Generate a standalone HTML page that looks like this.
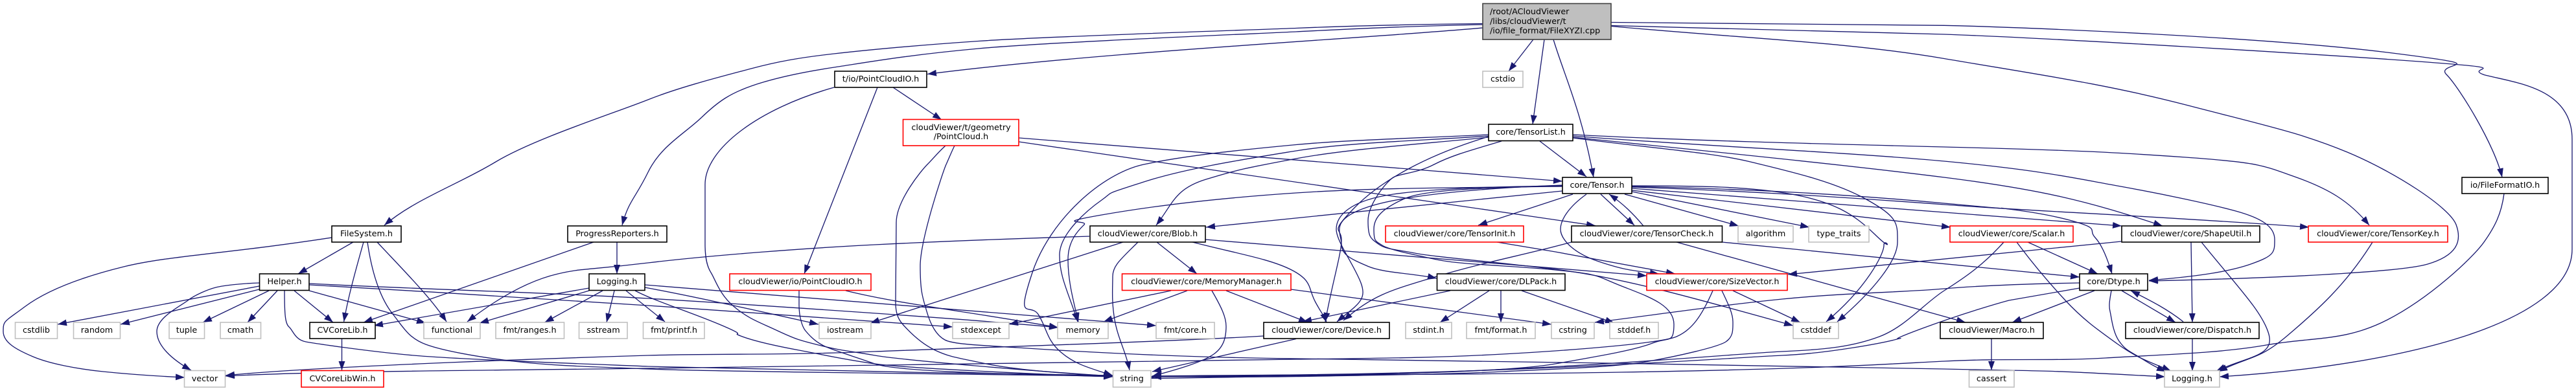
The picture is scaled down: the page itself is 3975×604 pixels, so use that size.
<!DOCTYPE html>
<html><head><meta charset="utf-8">
<style>
html,body{margin:0;padding:0;background:#fff;width:3975px;height:604px;overflow:hidden}
svg{display:block}
.e{fill:none;stroke:#191970;stroke-width:1.33;marker-end:url(#a)}
.n{fill:#fff;stroke-width:1.6}
.b{stroke:#000}.g{stroke:#bfbfbf}.r{stroke:#ff0000}
text{font-family:"DejaVu Sans",sans-serif;font-size:12.75px;fill:#000;text-anchor:middle}
</style></head><body>
<svg width="3975" height="604" viewBox="0 0 3975 604" xmlns="http://www.w3.org/2000/svg">
<defs><marker id="a" markerUnits="userSpaceOnUse" markerWidth="15" markerHeight="11" refX="14" refY="5" orient="auto"><path d="M0,0L14,5L0,10z" fill="#191970"/></marker></defs>
<g>
<path class="e" d="M2288,36.5C2150,38 2060,41 2000,43.5S1620,56 1510,63.5S1340,77 1287,83S1200,95 1159,106S1050,134 1000,154S825,214 765,250S640,308 593,348"/>
<path class="e" d="M2288,38C2150,41 2060,46 2000,49S1620,65 1510,75S1340,96 1287,104S1190,122 1159,133S1110,155 1083,181S1020,225 1000,266S970,310 960,348"/>
<path class="e" d="M2288,43C2100,60 1700,80 1431,114.5"/>
<path class="e" d="M2366,61L2328,110"/>
<path class="e" d="M2383,61L2365,192"/>
<path class="e" d="M2397,61C2415,120 2440,170 2459,274"/>
<path class="e" d="M2486,34.5C2700,36 2880,37 3000,39.3S3500,58 3684,81S3755,95 3775,115S3850,225 3861,274"/>
<path class="e" d="M2486,39.5C2700,44 2850,48 3000,53S3600,85 3746,96S3800,104 3833,115.5C3880,128 3969,135 3969,215L3969,385C3969,500 3700,565 3425,582"/>
<path class="e" d="M2486,40.5C2700,60 2850,65 3000,90.5S3250,130 3373,162S3550,205 3622,235S3780,320 3790,347S3790,395 3746,408S3500,430 3316,434"/>

<path class="e" d="M1287,135C1170,168 1088,230 1088,285L1088,377C1088,395 1090,410 1097,421S1110,455 1133,474S1170,497 1200,511S1235,526 1267,534S1310,542 1350,549S1600,574 1717,581"/>
<path class="e" d="M1354,135L1241,423"/>
<path class="e" d="M1378,135L1453,185"/>

<path class="e" d="M1572,213L2411,280"/>
<path class="e" d="M1572,219L2462,348.6"/>
<path class="e" d="M1459,225C1445,238 1440,245 1431,254S1383,310 1383,344L1382,467C1382,482 1385,492 1393,501S1420,530 1443,541S1480,553 1517,561S1620,576 1717,581"/>
<path class="e" d="M1473,225C1468,235 1465,243 1460,254S1420,370 1420,411S1424,460 1430,481S1445,518 1458,525S1510,533 1570,537S1800,552 2000,554S2800,566 3000,570S3150,572 3341,582"/>

<path class="e" d="M1233,449L1233,471C1233,490 1238,505 1243,511S1255,525 1267,532S1310,548 1350,562S1600,578 1717,582"/>
<path class="e" d="M1305,449C1390,470 1500,482 1633,506"/>

<path class="e" d="M916,374L561,498"/>
<path class="e" d="M952,374L952,423"/>

<path class="e" d="M545,374L460,423"/>
<path class="e" d="M561,374C548,420 537,460 530.6,497"/>
<path class="e" d="M582,374C625,420 665,460 689,497"/>
<path class="e" d="M512,367C350,392 260,395 191,412S70,450 38,474S5,495 5,512S25,540 51,551S120,570 159,574S240,581 285,583"/>
<path class="e" d="M567,374C575,430 590,465 606,485S630,522 657,532S740,552 797,558.5S900,566 1000,570S1500,578 1717,581"/>

<path class="e" d="M400,442L89,501"/>
<path class="e" d="M400,447L186,501"/>
<path class="e" d="M415,449L313,498"/>
<path class="e" d="M428,449L382,498"/>
<path class="e" d="M454,449L514,498"/>
<path class="e" d="M477,449L657,499"/>
<path class="e" d="M400.7,437C370,438 345,441 333,444S300,456 290,464S242,490 242,512S265,555 295,572"/>
<path class="e" d="M439,449C439,485 440,500 446,505S455,525 472,528S570,543 638,549S900,562 1000,566S1500,577 1717,580"/>
<path class="e" d="M477,438C650,447 850,452 1000,461S1500,493 1633,506"/>
<path class="e" d="M477,440C650,450 850,462 1000,472S1250,490 1470,505"/>

<path class="e" d="M909,445L577,503"/>
<path class="e" d="M909,449L740,499"/>
<path class="e" d="M930,449L840.5,498"/>
<path class="e" d="M948,449L936,498"/>
<path class="e" d="M966,449L1026,497"/>
<path class="e" d="M995,444C1060,456 1133,472 1263,501"/>
<path class="e" d="M995,440L1784,503"/>
<path class="e" d="M980,449C1010,465 1060,480 1110,501S1125,512 1143,519S1190,533 1233,541S1300,555 1350,562S1600,578 1717,582"/>

<path class="e" d="M1681,365C1550,369 1450,373 1350,378S1100,394 1000,406S900,414 861,423S775,455 721,497"/>
<path class="e" d="M1733,374L1343,499"/>
<path class="e" d="M1756,374C1730,400 1717,410 1717,427S1715,465 1720,494S1738,545 1743,572"/>
<path class="e" d="M1785,374L1847,423"/>
<path class="e" d="M1840,374C1910,392 1960,400 1993,417S2018,445 2030,467S2042,485 2047,498"/>
<path class="e" d="M1860,370L2541,426"/>

<path class="e" d="M527.5,523L527.5,572"/>

<path class="e" d="M1807,449L1557,501"/>
<path class="e" d="M1832,449L1703,497"/>
<path class="e" d="M1870,449C1885,475 1892,490 1892,504S1890,535 1873,547S1820,570 1778,581"/>
<path class="e" d="M1892,449L2018,498"/>
<path class="e" d="M1992,447L2394,501"/>

<path class="e" d="M1950,519C1800,528 1500,537 1350,543S1100,546 1000,549S500,565 348,580"/>
<path class="e" d="M2000,523.5L1778,574"/>

<path class="e" d="M2643,449C2625,490 2610,510 2587,520S2430,541 2319,547S2150,553 2000,555S1300,565 1000,569S500,573 348,581"/>
<path class="e" d="M2657,449C2668,472 2674,485 2674,497S2675,520 2663,528S2590,550 2542,558.5S2400,570 2319,574S2100,580 2000,581.6S1840,581 1778,582"/>
<path class="e" d="M2674,449L2778,498"/>

<path class="e" d="M2297,208C2200,213 2080,216 2000,223.5S1830,240 1765,254S1620,340 1593,421S1590,465 1603,487S1615,525 1637,544S1680,568 1717,580"/>
<path class="e" d="M2297,210C2200,217 2080,220 2000,233S1830,260 1765,281S1720,295 1700,309S1635,360 1635,394S1648,450 1663,497"/>
<path class="e" d="M2297,212C2200,222 2080,230 2000,245S1910,262 1861,277S1810,315 1784,348"/>
<path class="e" d="M2297,211C2200,240 2130,280 2090,321S2070,350 2070,371S2055,440 2045,497"/>
<path class="e" d="M2317,218C2270,232 2240,240 2213,254S2160,268 2150,274S2111,315 2111,341S2115,368 2127,377S2160,386 2183,391S2300,404 2400,416S2620,462 2767,503"/>
<path class="e" d="M2376,218L2448,273"/>
<path class="e" d="M2427,208C2600,217 2800,222 3000,227S3260,235 3373,243S3490,255 3541,273S3625,310 3656,348"/>
<path class="e" d="M2427,210C2600,224 2850,235 3000,249S3200,275 3267,287S3410,315 3450,326S3510,350 3510,370S3510,395 3473,408S3380,428 3316,433"/>
<path class="e" d="M2427,212C2650,235 2850,255 3000,274S3220,310 3337,349"/>
<path class="e" d="M2427,213C2540,228 2640,235 2701,250S2830,280 2880,308S2928,345 2928,374S2890,450 2835,497"/>

<path class="e" d="M2411,288C2250,290 2120,290 2000,298S1780,318 1700,332S1680,340 1673,347S1648,370 1648,401S1655,460 1664,497"/>
<path class="e" d="M2411,295L1861,351"/>
<path class="e" d="M2411,287C2330,288 2220,290 2150,300S2062,335 2062,354S2090,410 2100,437S2095,470 2063,497"/>
<path class="e" d="M2411,286C2300,290 2170,300 2110,320S2070,360 2070,377S2085,400 2110,411S2180,422 2217,430"/>
<path class="e" d="M2411,287C2300,290 2200,292 2167,307S2120,335 2120,354S2122,372 2133,379S2180,393 2217,401S2330,410 2400,417S2460,425 2500,441S2583,470 2583,501S2575,520 2550,530S2480,548 2400,562S2100,578 2000,580S1860,581 1778,582"/>
<path class="e" d="M2448,300C2420,320 2408,340 2408,354S2425,390 2467,404S2520,418 2560,423"/>
<path class="e" d="M2427,300L2281,348"/>
<path class="e" d="M2470,300L2522,348"/>
<path class="e" d="M2536,349C2520,330 2505,315 2483,300"/>
<path class="e" d="M2507,300L2683,349"/>
<path class="e" d="M2518,296L2792,351"/>
<path class="e" d="M2518,294L3010,351"/>
<path class="e" d="M2518,291L3274,349"/>
<path class="e" d="M2518,289C2700,295 2850,305 3000,316S3350,335 3563,351"/>
<path class="e" d="M2518,288C2700,292 2850,300 3000,314S3060,318 3100,323S3175,334 3207,344S3222,355 3233,367S3252,400 3259,423"/>
<path class="e" d="M2518,287C2620,287 2700,288 2765,300S2860,330 2893,362S2907,365 2907,379S2880,445 2818,497"/>

<path class="e" d="M2310,374L2400,389L2585,423"/>
<path class="e" d="M2587,374L3033,498"/>
<path class="e" d="M2657,374L3209,428"/>
<path class="e" d="M2425,374C2360,392 2290,405 2217,427S2120,455 2073,495"/>

<path class="e" d="M2238,449L2010,497"/>
<path class="e" d="M2298,449L2222,498"/>
<path class="e" d="M2316,449L2316,498"/>
<path class="e" d="M2348,449L2491,499"/>

<path class="e" d="M3129,374L3237,423"/>
<path class="e" d="M3112,374C3135,405 3160,435 3187,464S3235,508 3267,531S3315,558 3350,573"/>
<path class="e" d="M3092,374C3060,410 3030,430 3000,449S2940,505 2900,520S2820,540 2750,543S2400,574 2000,581S1840,582 1778,582"/>
<path class="e" d="M3209,445L3100,464S3040,480 2967,507S2950,518 2927,524S2820,546 2750,549S2400,574 2000,579S1840,581 1778,581"/>
<path class="e" d="M3209,437C3150,438 3070,440 3000,446S2850,452 2750,462S2550,487 2461,498"/>
<path class="e" d="M3232,449L3105,498"/>
<path class="e" d="M3274,449L3357,498"/>
<path class="e" d="M3369,497C3345,478 3320,465 3288,449"/>
<path class="e" d="M3258,449C3255,465 3254,473 3256,481S3260,513 3270,527S3285,542 3300,551S3320,564 3342,574"/>

<path class="e" d="M3073,523L3073,572"/>
<path class="e" d="M3383,523L3383,573"/>
<path class="e" d="M3381,374L3383,498"/>
<path class="e" d="M3397,374C3450,440 3490,480 3500.6,515S3470,550 3420,573"/>
<path class="e" d="M3273,373L2759,424"/>
<path class="e" d="M3661,374C3620,440 3575,480 3529,519S3470,550 3423,574"/>
<path class="e" d="M3864,299C3860,330 3850,350 3833,374S3750,460 3684,494S3570,520 3497,533S3330,548 3249,553S3100,553 3000,558S2800,570 2500,575S2000,578 1778,581"/>
</g>
<g>
<rect class="n b" x="2288" y="5.5" width="198" height="55.5" style="fill:#bfbfbf;stroke:#404040"/>
<text x="2299" y="22" style="text-anchor:start">/root/ACloudViewer</text>
<text x="2299" y="37" style="text-anchor:start">/libs/cloudViewer/t</text>
<text x="2299" y="51.5" style="text-anchor:start">/io/file_format/FileXYZI.cpp</text>

<rect class="n b" x="1288" y="110" width="142" height="25"/><text x="1359" y="126">t/io/PointCloudIO.h</text>
<rect class="n g" x="2288" y="110" width="62" height="25"/><text x="2319" y="126">cstdio</text>
<rect class="n b" x="2297" y="192" width="130" height="25.5"/><text x="2362" y="208">core/TensorList.h</text>
<rect class="n r" x="1393.5" y="184.5" width="178.5" height="40.5"/><text x="1483" y="201">cloudViewer/t/geometry</text><text x="1483" y="215">/PointCloud.h</text>
<rect class="n b" x="2411" y="274" width="107" height="25"/><text x="2464.5" y="290">core/Tensor.h</text>
<rect class="n b" x="3799" y="274" width="133" height="25"/><text x="3865.5" y="290">io/FileFormatIO.h</text>

<rect class="n b" x="512" y="349" width="107" height="25"/><text x="565.5" y="365">FileSystem.h</text>
<rect class="n b" x="876" y="349" width="153" height="25"/><text x="952.5" y="365">ProgressReporters.h</text>
<rect class="n b" x="1682" y="349" width="178" height="25"/><text x="1771" y="365">cloudViewer/core/Blob.h</text>
<rect class="n r" x="2138" y="349" width="213" height="25"/><text x="2244.5" y="365">cloudViewer/core/TensorInit.h</text>
<rect class="n b" x="2425" y="349" width="232.5" height="25"/><text x="2541" y="365">cloudViewer/core/TensorCheck.h</text>
<rect class="n g" x="2682" y="349" width="85" height="25"/><text x="2724.5" y="365">algorithm</text>
<rect class="n g" x="2791" y="349" width="93" height="25"/><text x="2837.5" y="365">type_traits</text>
<rect class="n r" x="3009" y="349" width="190" height="25"/><text x="3104" y="365">cloudViewer/core/Scalar.h</text>
<rect class="n b" x="3274" y="349" width="213" height="25"/><text x="3380.5" y="365">cloudViewer/core/ShapeUtil.h</text>
<rect class="n r" x="3562" y="349" width="215" height="25"/><text x="3669.5" y="365">cloudViewer/core/TensorKey.h</text>

<rect class="n b" x="400.5" y="423" width="76.5" height="25.5"/><text x="439" y="439">Helper.h</text>
<rect class="n b" x="909" y="423" width="86" height="25.5"/><text x="952" y="439">Logging.h</text>
<rect class="n r" x="1126" y="423" width="218" height="25.5"/><text x="1235" y="439">cloudViewer/io/PointCloudIO.h</text>
<rect class="n r" x="1731.5" y="423" width="260.5" height="25.5"/><text x="1861.5" y="439">cloudViewer/core/MemoryManager.h</text>
<rect class="n b" x="2217.5" y="423" width="197.5" height="25.5"/><text x="2316" y="439">cloudViewer/core/DLPack.h</text>
<rect class="n r" x="2541" y="423" width="217" height="25.5"/><text x="2649.5" y="439">cloudViewer/core/SizeVector.h</text>
<rect class="n b" x="3209" y="423" width="105" height="25.5"/><text x="3261.5" y="439">core/Dtype.h</text>

<rect class="n g" x="23.5" y="498" width="65" height="25"/><text x="56" y="514">cstdlib</text>
<rect class="n g" x="113.5" y="498" width="72" height="25"/><text x="149.5" y="514">random</text>
<rect class="n g" x="261" y="498" width="54.5" height="25"/><text x="288" y="514">tuple</text>
<rect class="n g" x="340" y="498" width="62.5" height="25"/><text x="371" y="514">cmath</text>
<rect class="n b" x="478" y="498" width="101" height="25"/><text x="528.5" y="514">CVCoreLib.h</text>
<rect class="n g" x="654" y="498" width="87" height="25"/><text x="697.5" y="514">functional</text>
<rect class="n g" x="765" y="498" width="105.5" height="25"/><text x="817.5" y="514">fmt/ranges.h</text>
<rect class="n g" x="893.5" y="498" width="74.5" height="25"/><text x="931" y="514">sstream</text>
<rect class="n g" x="992.5" y="498" width="94.5" height="25"/><text x="1040" y="514">fmt/printf.h</text>
<rect class="n g" x="1264" y="498" width="80" height="25"/><text x="1304" y="514">iostream</text>
<rect class="n g" x="1470" y="498" width="87" height="25"/><text x="1513.5" y="514">stdexcept</text>
<rect class="n g" x="1632" y="498" width="78" height="25"/><text x="1671" y="514">memory</text>
<rect class="n g" x="1784" y="498" width="90" height="25"/><text x="1829" y="514">fmt/core.h</text>
<rect class="n b" x="1950" y="498" width="194" height="25"/><text x="2047" y="514">cloudViewer/core/Device.h</text>
<rect class="n g" x="2169" y="498" width="71" height="25"/><text x="2204.5" y="514">stdint.h</text>
<rect class="n g" x="2263" y="498" width="106" height="25"/><text x="2316" y="514">fmt/format.h</text>
<rect class="n g" x="2394" y="498" width="66" height="25"/><text x="2427" y="514">cstring</text>
<rect class="n g" x="2484" y="498" width="75" height="25"/><text x="2521.5" y="514">stddef.h</text>
<rect class="n g" x="2767" y="498" width="70" height="25"/><text x="2802" y="514">cstddef</text>
<rect class="n b" x="2994" y="498" width="159" height="25"/><text x="3073.5" y="514">cloudViewer/Macro.h</text>
<rect class="n b" x="3280" y="498" width="206" height="25"/><text x="3383" y="514">cloudViewer/core/Dispatch.h</text>

<rect class="n g" x="284.5" y="572.5" width="63" height="25.5"/><text x="316" y="589">vector</text>
<rect class="n r" x="465" y="572.5" width="127" height="25.5"/><text x="528.5" y="589">CVCoreLibWin.h</text>
<rect class="n g" x="1717.5" y="572.5" width="58.5" height="25.5"/><text x="1746.5" y="589">string</text>
<rect class="n g" x="3038.5" y="572.5" width="69.5" height="25.5"/><text x="3073" y="589">cassert</text>
<rect class="n g" x="3340" y="572.5" width="85" height="25.5"/><text x="3382.5" y="589">Logging.h</text>
</g>
</svg>
</body></html>
